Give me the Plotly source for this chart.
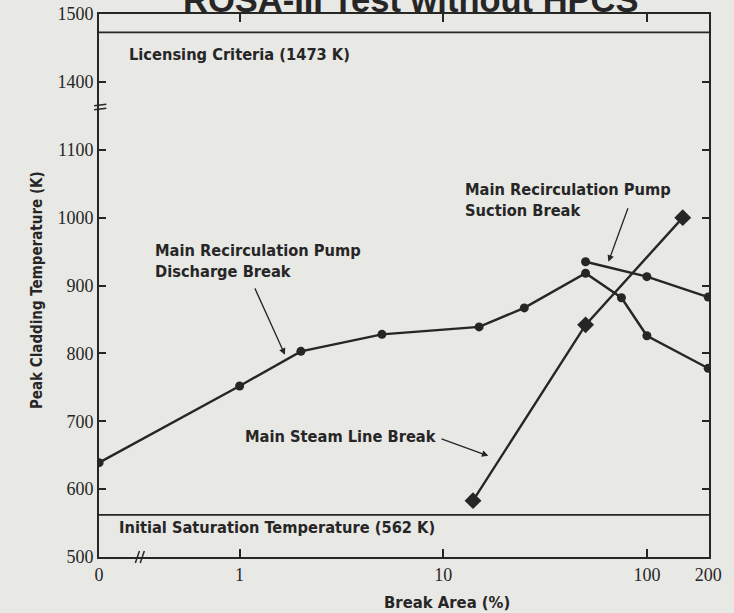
import math
import plotly.graph_objects as go

# ---------------- data ----------------
discharge_x = [0, 1, 2, 5, 15, 25, 50, 75, 100, 200]          # break area (%)
discharge_y = [639, 752, 803, 828, 839, 867, 918, 882, 826, 778]  # PCT (K)

suction_x = [50, 100, 200]
suction_y = [935, 913, 883]

steam_x = [14, 50, 150]
steam_y = [583, 842, 1000]

licensing_limit = 1473
saturation_temp = 562

x_tick_values = [0, 1, 10, 100, 200]
x_tick_labels = ["0", "1", "10", "100", "200"]
y_tick_values = [500, 600, 700, 800, 900, 1000, 1100, 1400, 1500]
y_tick_labels = [str(v) for v in y_tick_values]

# ---------------- broken-axis transforms ----------------
ZERO_POS = -0.69      # where "0" sits on the broken log axis
Y_BREAK = 1100        # values above this are shifted down (axis break)
Y_SHIFT = 200


def xpos(v):
    return ZERO_POS if v == 0 else math.log10(v)


def ypos(v):
    return v - Y_SHIFT if v > Y_BREAK else v


INK = "#262626"
BG = "#e8e8e5"
SANS = "Liberation Sans Narrow, DejaVu Sans Condensed, sans-serif"
SERIF = "Liberation Serif, DejaVu Serif, serif"

fig = go.Figure()

line_style = dict(color=INK, width=2.4)

fig.add_trace(go.Scatter(
    x=[xpos(v) for v in discharge_x], y=[ypos(v) for v in discharge_y],
    mode="lines+markers", line=line_style,
    marker=dict(symbol="circle", size=9, color=INK),
    name="Main Recirculation Pump Discharge Break", showlegend=False))

fig.add_trace(go.Scatter(
    x=[xpos(v) for v in suction_x], y=[ypos(v) for v in suction_y],
    mode="lines+markers", line=line_style,
    marker=dict(symbol="circle", size=9, color=INK),
    name="Main Recirculation Pump Suction Break", showlegend=False))

fig.add_trace(go.Scatter(
    x=[xpos(v) for v in steam_x], y=[ypos(v) for v in steam_y],
    mode="lines+markers", line=line_style,
    marker=dict(symbol="diamond", size=13, color=INK),
    name="Main Steam Line Break", showlegend=False))

X_RANGE = [ZERO_POS - 0.0005, math.log10(200) + 0.004]
Y_RANGE = [500, ypos(1500)]

# horizontal reference lines
for lvl in (licensing_limit, saturation_temp):
    fig.add_shape(type="line", xref="paper", x0=0, x1=1, yref="y",
                  y0=ypos(lvl), y1=ypos(lvl), line=dict(color=INK, width=1.6))

# axis break marks
for dy in (-3, 3):
    fig.add_shape(type="line", xref="paper", x0=-0.008, x1=0.012, yref="y",
                  y0=1163 + dy - 1, y1=1163 + dy + 1, line=dict(color=INK, width=1.5))
for dx in (-0.012, 0.012):
    fig.add_shape(type="line", xref="x", x0=-0.49 + dx - 0.01, x1=-0.49 + dx + 0.01,
                  yref="paper", y0=-0.011, y1=0.011, line=dict(color=INK, width=1.5))

afont = dict(family=SANS, size=16.3, color=INK)

fig.add_annotation(x=-0.554, y=1240, xref="x", yref="y", text="<b>Licensing Criteria (1473 K)</b>",
                   showarrow=False, xanchor="left", yanchor="middle", font=afont)
fig.add_annotation(x=-0.604, y=543, xref="x", yref="y",
                   text="<b>Initial Saturation Temperature (562 K)</b>",
                   showarrow=False, xanchor="left", yanchor="middle", font=afont)
fig.add_annotation(x=-0.425, y=936, xref="x", yref="y",
                   text="<b>Main Recirculation Pump<br>Discharge Break</b>",
                   showarrow=False, xanchor="left", yanchor="middle", align="left", font=afont)
fig.add_annotation(x=1.097, y=1026, xref="x", yref="y",
                   text="<b>Main Recirculation Pump<br>Suction Break</b>",
                   showarrow=False, xanchor="left", yanchor="middle", align="left", font=afont)
fig.add_annotation(x=0.018, y=677, xref="x", yref="y", text="<b>Main Steam Line Break</b>",
                   showarrow=False, xanchor="left", yanchor="middle", font=afont)

# arrows
arrow_kw = dict(text="", showarrow=True, arrowhead=2, arrowsize=1.0, arrowwidth=1.3,
                arrowcolor=INK, xref="x", yref="y", axref="x", ayref="y")
fig.add_annotation(x=0.2226, y=798, ax=0.0717, ay=898, **arrow_kw)
fig.add_annotation(x=1.8113, y=935, ax=1.9096, ay=1016, **arrow_kw)
fig.add_annotation(x=1.2216, y=649, ax=0.984, ay=675, **arrow_kw)

# axis titles
fig.add_annotation(x=-0.1016, y=0.4917, xref="paper", yref="paper",
                   text="<b>Peak Cladding Temperature (K)</b>", textangle=-90,
                   showarrow=False, xanchor="center", yanchor="middle",
                   font=dict(family=SANS, size=15, color=INK))
fig.add_annotation(x=0.570, y=-0.0847, xref="paper", yref="paper",
                   text="<b>Break Area (%)</b>", showarrow=False,
                   xanchor="center", yanchor="middle",
                   font=dict(family=SANS, size=16.5, color=INK))

# partially visible title at the top edge (cut off in the reference scan)
fig.add_annotation(x=0.511, y=1, xref="paper", yref="paper", yshift=14,
                   text="<b>ROSA-III Test without HPCS</b>", showarrow=False,
                   xanchor="center", yanchor="middle",
                   font=dict(family="Liberation Sans, Arial, sans-serif", size=34.5, color=INK))

axis_common = dict(showgrid=False, zeroline=False, showline=True, linecolor=INK,
                   linewidth=2, mirror="ticks", ticks="inside", tickcolor=INK,
                   tickwidth=1.5, automargin=False,
                   tickfont=dict(family=SERIF, size=18, color=INK))

fig.update_xaxes(range=X_RANGE, tickmode="array",
                 tickvals=[xpos(v) for v in x_tick_values], ticktext=x_tick_labels,
                 ticklen=8, **axis_common)
fig.update_yaxes(range=Y_RANGE, tickmode="array",
                 tickvals=[ypos(v) for v in y_tick_values], ticktext=y_tick_labels,
                 ticklen=7, **axis_common)

fig.update_layout(width=734, height=613, autosize=False,
                  margin=dict(l=99, r=25, t=14, b=56),
                  paper_bgcolor=BG, plot_bgcolor=BG, showlegend=False)

fig.write_html("out.html",
               config={"displayModeBar": False},
               post_script="document.body.style.margin='0';"
                           "document.body.style.background='" + BG + "';")
